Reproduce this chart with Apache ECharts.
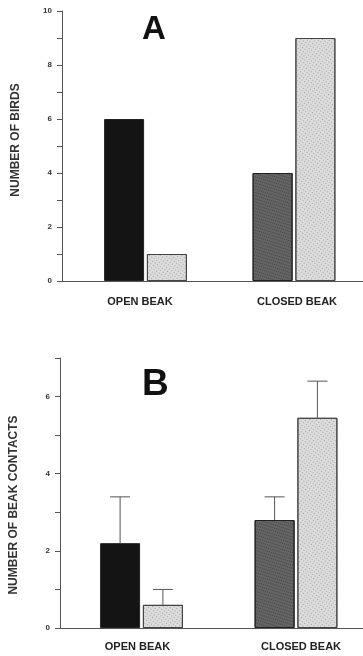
<!DOCTYPE html>
<html>
<head>
<meta charset="utf-8">
<script src="https://cdn.jsdelivr.net/npm/echarts@6/dist/echarts.min.js"></script>
<style>
html,body{margin:0;padding:0;background:#fff;overflow:hidden;width:363px;height:656px;}
#chart{width:380px;height:656px;}
</style>
</head>
<body>
<div id="chart"></div>
<script>
// ---- data ----
const categories = ['OPEN BEAK', 'CLOSED BEAK'];
// Panel A: number of birds
const birdsLeft = [6, 4];
const birdsRight = [1, 9];
// Panel B: number of beak contacts (mean + upper error)
const contactsLeft = [2.2, 2.8];
const contactsLeftErr = [1.2, 0.6];
const contactsRight = [0.6, 5.45];
const contactsRightErr = [0.4, 0.95];
const yMaxA = 10;
const yMaxB = 7;

// ---- styles ----
const FONT = 'Liberation Sans, Arial, sans-serif';
const AXIS_COLOR = '#555';
const BAR_W = 40;
const GAP_PCT = 0.07;
const leftColors = ['#141414', '#656565'];
const lightDecal = {
  symbol: 'rect', symbolSize: 1, color: 'rgba(0,0,0,0.28)',
  dashArrayX: [1, 2], dashArrayY: [1, 2], rotation: 0.6
};
const darkDecal = {
  symbol: 'rect', symbolSize: 1, color: 'rgba(0,0,0,0.35)',
  dashArrayX: [1, 1], dashArrayY: [1, 2], rotation: 0.3
};

function leftData(vals) {
  return vals.map((v, i) => {
    const st = { color: leftColors[i], borderColor: '#222', borderWidth: 1 };
    if (i === 1) st.decal = darkDecal;
    return { value: v, itemStyle: st };
  });
}

function axesYAxis(gridIndex, max, nameText, pad) {
  return {
    type: 'value', gridIndex, min: 0, max, interval: 1,
    name: nameText, nameLocation: 'middle', nameGap: 40, nameRotate: 90,
    nameTextStyle: { fontFamily: FONT, fontWeight: 'bold', fontSize: 12, color: '#333', padding: pad },
    axisLine: { show: true, lineStyle: { color: AXIS_COLOR, width: 1 } },
    axisTick: { show: true, length: 5, lineStyle: { color: AXIS_COLOR } },
    axisLabel: {
      margin: 10, fontFamily: FONT, fontWeight: 'bold', fontSize: 8, color: '#333',
      formatter: v => (v % 2 === 0 ? String(v) : '')
    },
    splitLine: { show: false }
  };
}
function hiddenYAxis(gridIndex, max) {
  return { type: 'value', gridIndex, min: 0, max, show: false, splitLine: { show: false } };
}
function lineXAxis(gridIndex) {
  return {
    type: 'value', gridIndex, min: 0, max: 1,
    axisLine: { show: true, onZero: false, lineStyle: { color: AXIS_COLOR, width: 1 } },
    axisTick: { show: false }, axisLabel: { show: false }, splitLine: { show: false }
  };
}
function catXAxis(gridIndex, margin, padOpen, padClosed) {
  const base = { fontFamily: FONT, fontWeight: 'bold', fontSize: 11, color: '#222' };
  return {
    type: 'category', gridIndex, data: categories,
    axisLine: { show: false }, axisTick: { show: false },
    axisLabel: {
      margin,
      formatter: (v, i) => (i === 0 ? '{o|' + v + '}' : '{c|' + v + '}'),
      rich: {
        o: Object.assign({ padding: padOpen }, base),
        c: Object.assign({ padding: padClosed }, base)
      }
    }
  };
}

function errorSeries(xAxisIndex, yAxisIndex, means, errs, side) {
  return {
    type: 'custom', xAxisIndex, yAxisIndex, z: 5,
    data: means.map((m, i) => [i, m, errs[i]]),
    renderItem: function (params, api) {
      const cat = api.value(0), m = api.value(1), e = api.value(2);
      const base = api.coord([cat, m]);
      const top = api.coord([cat, m + e]);
      const off = side * (BAR_W * (1 + GAP_PCT)) / 2;
      const x = base[0] + off;
      const style = { stroke: '#555', lineWidth: 1, fill: null };
      return {
        type: 'group',
        children: [
          { type: 'line', shape: { x1: x, y1: base[1], x2: x, y2: top[1] }, style },
          { type: 'line', shape: { x1: x - 10, y1: top[1], x2: x + 10, y2: top[1] }, style }
        ]
      };
    }
  };
}

const chart = echarts.init(document.getElementById('chart'), null, { renderer: 'canvas' });
const option = {
  backgroundColor: '#fff',
  animation: false,
  title: [
    { text: 'A', left: 142, top: 13, padding: 0, textStyle: { fontFamily: FONT, fontWeight: 'bold', fontSize: 33, color: '#111' } },
    { text: 'B', left: 142, top: 366, padding: 0, textStyle: { fontFamily: FONT, fontWeight: 'bold', fontSize: 37, color: '#111' } }
  ],
  grid: [
    { left: 62, right: 17, top: 11, height: 270 },
    { left: 71.25, width: 297, top: 11, height: 270 },
    { left: 60, right: 17, top: 358, height: 270 },
    { left: 64.25, width: 309, top: 358, height: 270 }
  ],
  xAxis: [
    lineXAxis(0), catXAxis(1, 15, [0, 11, 0, 0], [0, 0, 0, 6]),
    lineXAxis(2), catXAxis(3, 13, [0, 8, 0, 0], [0, 0, 0, 10])
  ],
  yAxis: [
    axesYAxis(0, yMaxA, 'NUMBER OF BIRDS', [0, 0, 0, 12]),
    hiddenYAxis(1, yMaxA),
    axesYAxis(2, yMaxB, 'NUMBER OF BEAK CONTACTS', [0, 24, 0, 0]),
    hiddenYAxis(3, yMaxB)
  ],
  series: [
    {
      type: 'bar', xAxisIndex: 1, yAxisIndex: 1, barWidth: BAR_W, barGap: (GAP_PCT * 100) + '%',
      data: leftData(birdsLeft)
    },
    {
      type: 'bar', xAxisIndex: 1, yAxisIndex: 1, barWidth: BAR_W,
      itemStyle: { color: '#dcdcdc', borderColor: '#444', borderWidth: 1, decal: lightDecal },
      data: birdsRight
    },
    {
      type: 'bar', xAxisIndex: 3, yAxisIndex: 3, barWidth: BAR_W, barGap: (GAP_PCT * 100) + '%',
      data: leftData(contactsLeft)
    },
    {
      type: 'bar', xAxisIndex: 3, yAxisIndex: 3, barWidth: BAR_W,
      itemStyle: { color: '#dcdcdc', borderColor: '#444', borderWidth: 1, decal: lightDecal },
      data: contactsRight
    },
    errorSeries(3, 3, contactsLeft, contactsLeftErr, -1),
    errorSeries(3, 3, contactsRight, contactsRightErr, 1)
  ]
};
chart.setOption(option);
</script>
</body>
</html>
